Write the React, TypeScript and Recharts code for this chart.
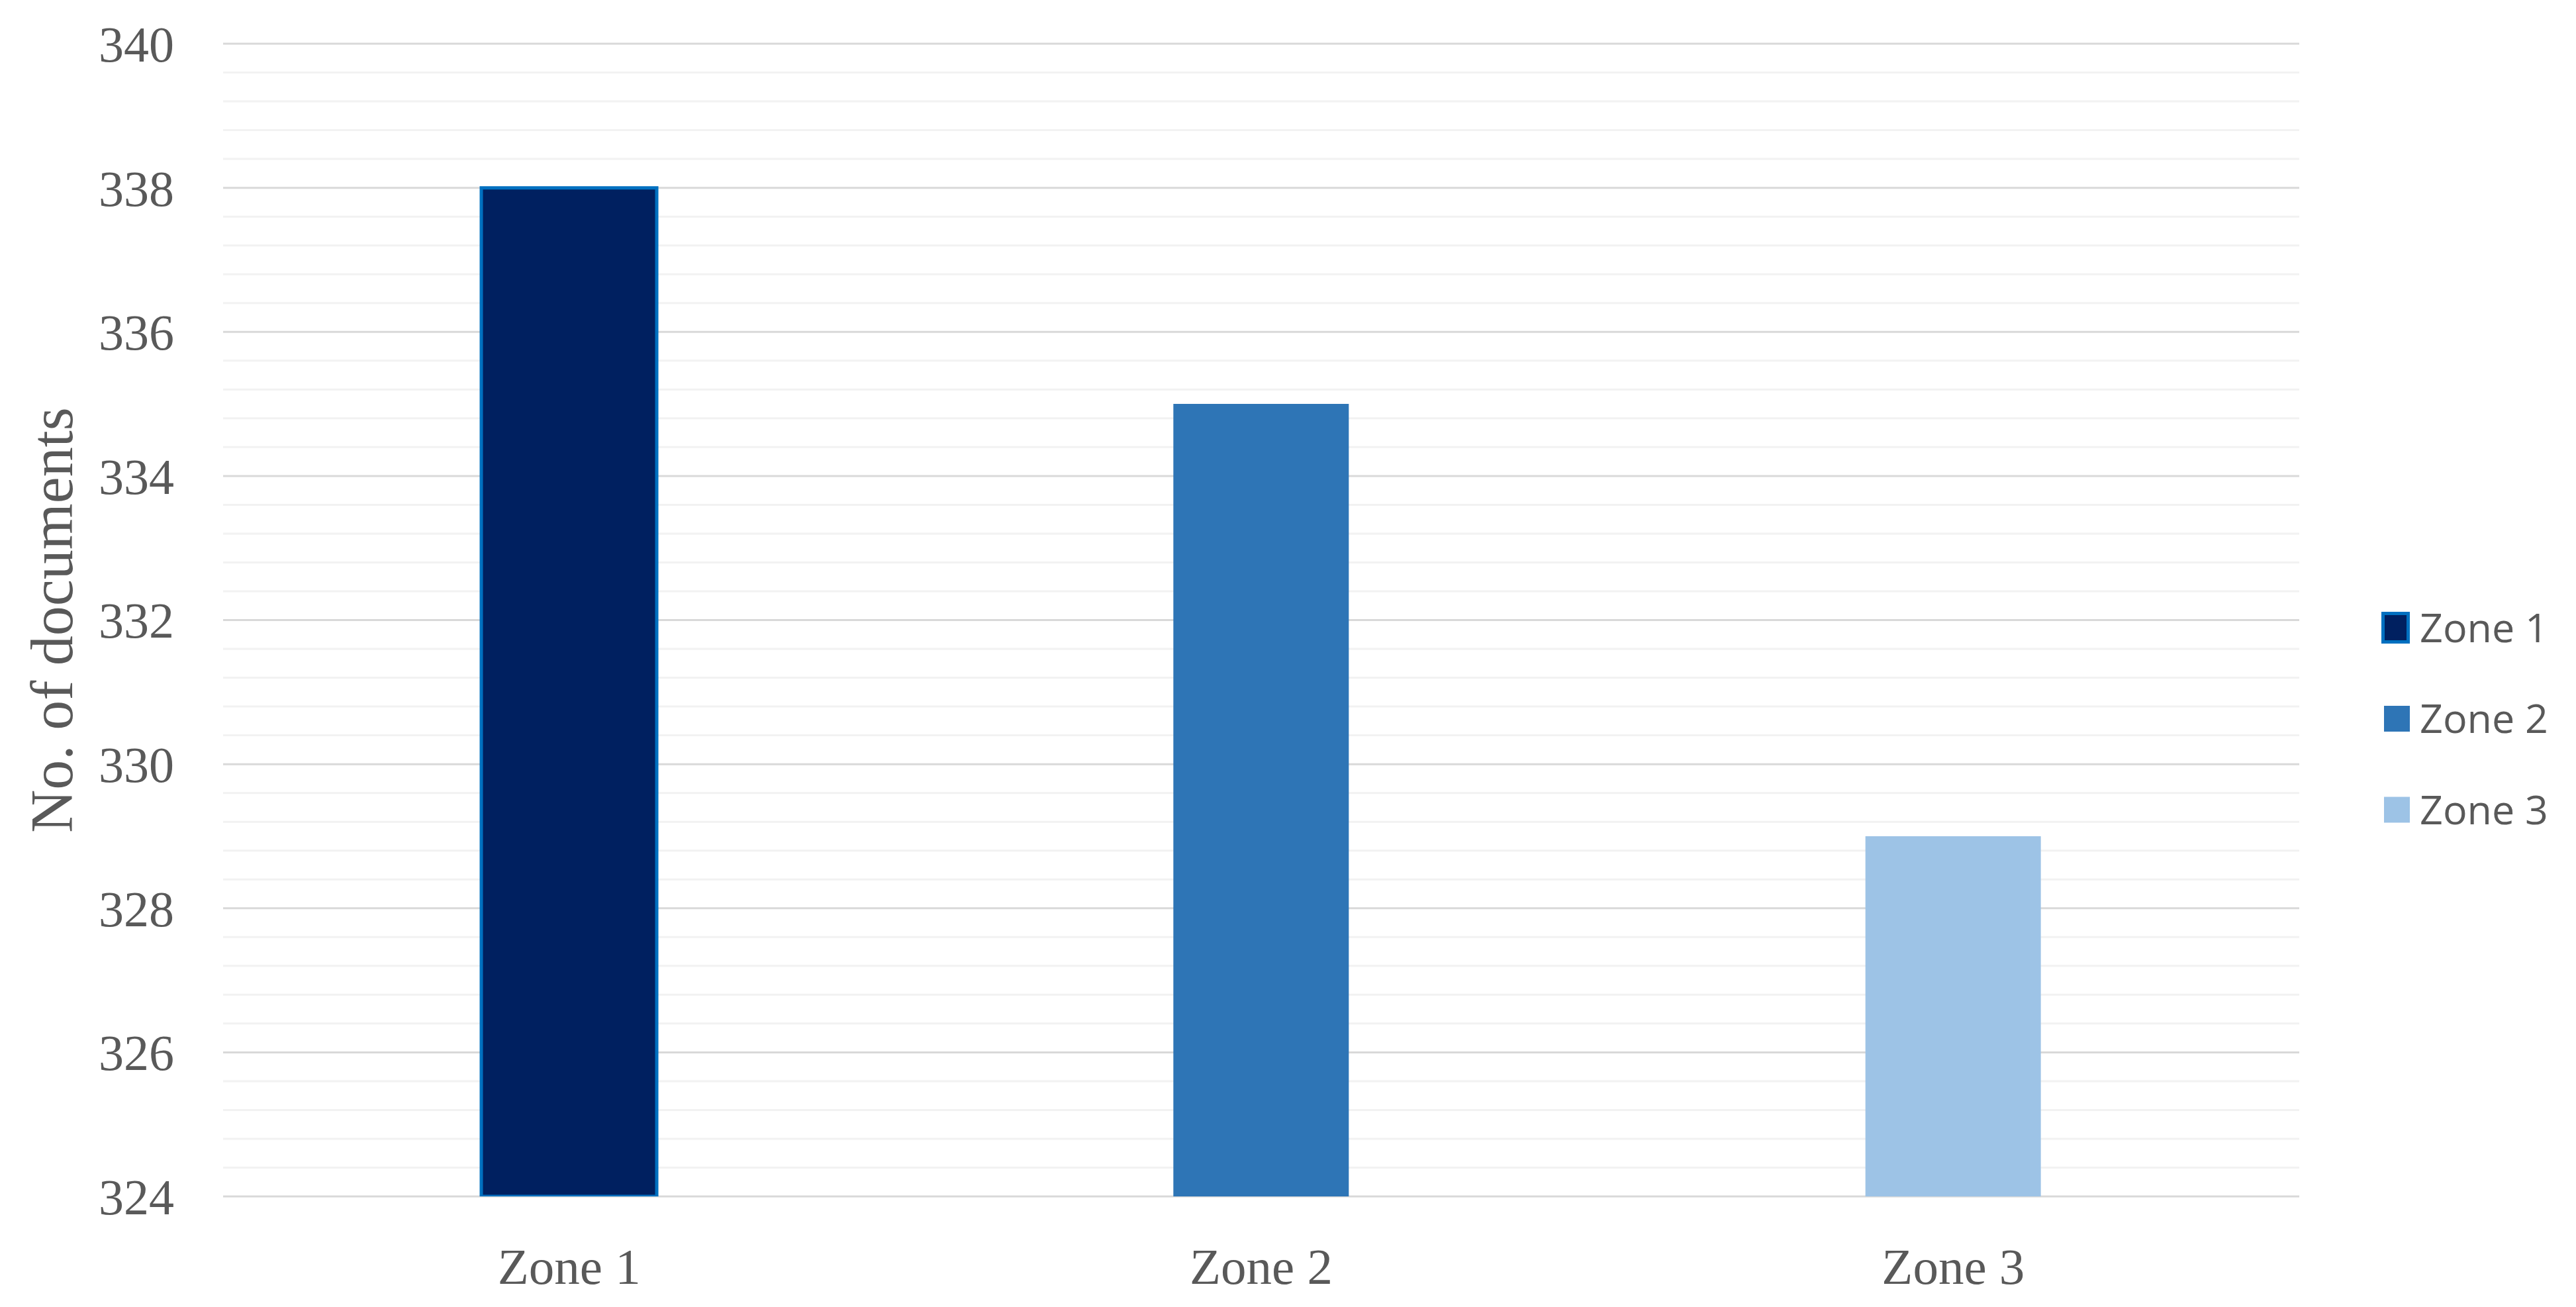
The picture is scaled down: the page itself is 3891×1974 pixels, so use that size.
import React from 'react';
import { BarChart, Bar, Cell, XAxis, YAxis, CartesianGrid } from 'recharts';

const categories = ['Zone 1', 'Zone 2', 'Zone 3'];
const documentCounts = [338, 335, 329];
const yTicks = [324, 326, 328, 330, 332, 334, 336, 338, 340];
const barColors = ['#002060', '#2E75B6', '#9DC3E6'];
const barStrokes = ['#0070C0', 'none', 'none'];
const yAxisTitle = 'No. of documents';

const data = categories.map((name, i) => ({ name, value: documentCounts[i] }));

// minor gridlines: four evenly spaced lines between each pair of major ticks
const minorValues: number[] = [];
for (let i = 0; i < yTicks.length - 1; i++) {
  const a = yTicks[i];
  const b = yTicks[i + 1];
  for (let k = 1; k < 5; k++) minorValues.push(+(a + ((b - a) * k) / 5).toFixed(2));
}

const TEXT = '#595959';
const SERIF = '"Liberation Serif", "Times New Roman", serif';
const SANS = '"Open Sans", "Noto Sans", sans-serif';

const W = 3891;
const H = 1974;

const YTitle = (props: any) => {
  const vb = props.viewBox || {};
  const cy = (vb.y || 0) + (vb.height || 0) / 2;
  const cx = 77;
  return (
    <text
      x={cx}
      y={cy}
      transform={`rotate(-90, ${cx}, ${cy})`}
      textAnchor="middle"
      dy="0.35em"
      fill={TEXT}
      fontFamily={SERIF}
      fontSize={90}
    >
      {yAxisTitle}
    </text>
  );
};

const LegendBox = () => (
  <svg width={286} height={360} style={{ position: 'absolute', left: 3597, top: 900, overflow: 'visible' }}>
    {categories.map((c, i) => {
      const cy = 48 + i * 137.5;
      const hasStroke = barStrokes[i] !== 'none';
      return (
        <g key={c}>
          {hasStroke ? (
            <rect x={2.5} y={cy - 21.5} width={38} height={43} fill={barColors[i]} stroke={barStrokes[i]} strokeWidth={5} />
          ) : (
            <rect x={4} y={cy - 19.5} width={39} height={39} fill={barColors[i]} />
          )}
          <text x={58} y={cy} dy="0.36em" fill={TEXT} fontFamily={SANS} fontSize={61}>
            {c}
          </text>
        </g>
      );
    })}
  </svg>
);

export default function App() {
  return (
    <div style={{ position: 'absolute', left: 0, top: 0, width: W, height: H, background: '#fff' }}>
      <BarChart
        width={W}
        height={H}
        data={data}
        margin={{ top: 66, right: 418, bottom: 137, left: 77 }}
      >
        <CartesianGrid vertical={false} horizontalValues={minorValues} stroke="#F2F2F2" strokeWidth={3} />
        <CartesianGrid vertical={false} horizontalValues={yTicks} stroke="#D9D9D9" strokeWidth={3} />
        <XAxis
          dataKey="name"
          height={30}
          axisLine={false}
          tickLine={false}
          tickSize={0}
          tickMargin={77}
          tick={{ fill: TEXT, fontFamily: SERIF, fontSize: 77 }}
        />
        <YAxis
          width={260}
          domain={[324, 340]}
          ticks={yTicks}
          allowDataOverflow
          axisLine={false}
          tickLine={false}
          tickSize={0}
          tickMargin={74}
          tick={{ fill: TEXT, fontFamily: SERIF, fontSize: 76 }}
          label={{ content: YTitle }}
        />
        <Bar dataKey="value" barSize={265} isAnimationActive={false}>
          {data.map((d, i) => (
            <Cell
              key={d.name}
              fill={barColors[i]}
              stroke={barStrokes[i] === 'none' ? undefined : barStrokes[i]}
              strokeWidth={barStrokes[i] === 'none' ? 0 : 5}
            />
          ))}
        </Bar>
      </BarChart>
      <LegendBox />
    </div>
  );
}
